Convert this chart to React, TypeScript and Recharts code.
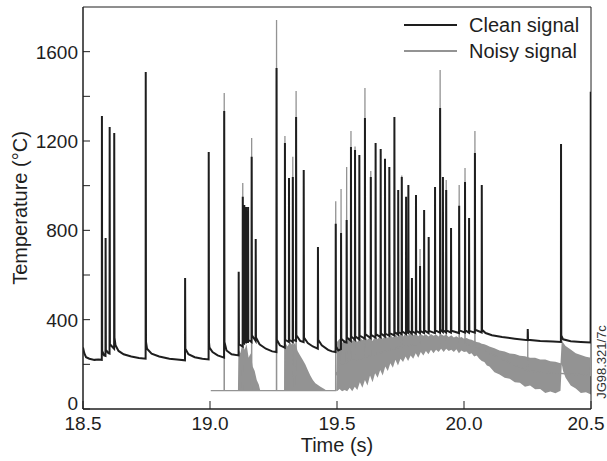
import React from 'react';
import { ComposedChart, Line, Area, XAxis, YAxis, ReferenceArea, Label } from 'recharts';

// [time (s), temperature (°C)]
const cleanSignal: [number, number][] = [
  [18.5, 275], [18.505, 250], [18.512, 232], [18.525, 225], [18.545, 220], [18.56, 222], [18.574, 220],
  [18.5745, 1312], [18.5755, 260], [18.583, 240], [18.5885, 238], [18.589, 766], [18.59, 265],
  [18.6, 250], [18.6045, 248], [18.605, 1263], [18.606, 290], [18.6225, 270], [18.623, 1236],
  [18.624, 320], [18.628, 285], [18.64, 260], [18.66, 245], [18.69, 235], [18.72, 228], [18.7465, 225],
  [18.747, 1509], [18.748, 300], [18.752, 270], [18.77, 248], [18.8, 235], [18.84, 225], [18.87, 222],
  [18.9015, 218], [18.902, 587], [18.903, 270], [18.915, 245], [18.94, 232], [18.97, 225], [18.9945, 222],
  [18.995, 1151], [18.996, 300], [18.998, 275], [19.01, 255], [19.03, 240], [19.0555, 230],
  [19.056, 1334], [19.057, 300], [19.065, 262], [19.085, 245], [19.1125, 240], [19.113, 614],
  [19.114, 290], [19.1285, 280], [19.129, 950], [19.13, 300], [19.1345, 295], [19.135, 913],
  [19.136, 300], [19.1415, 298], [19.142, 905], [19.143, 300], [19.1495, 300], [19.15, 905],
  [19.151, 310], [19.1635, 300], [19.164, 1129], [19.165, 330], [19.1795, 305], [19.18, 761],
  [19.181, 320], [19.195, 290], [19.22, 270], [19.245, 258], [19.2615, 255], [19.262, 1527],
  [19.263, 310], [19.275, 285], [19.2945, 275], [19.295, 1191], [19.296, 310], [19.3105, 300],
  [19.311, 1034], [19.312, 310], [19.3255, 300], [19.326, 1039], [19.327, 310], [19.3385, 305],
  [19.339, 1308], [19.34, 330], [19.355, 305], [19.3685, 300], [19.369, 1070], [19.37, 320],
  [19.385, 295], [19.405, 280], [19.4245, 270], [19.425, 725], [19.426, 310], [19.44, 285],
  [19.465, 265], [19.48, 258], [19.4945, 255], [19.495, 830], [19.496, 280], [19.505, 262],
  [19.5155, 268], [19.516, 788], [19.517, 315], [19.53, 300], [19.5375, 298], [19.538, 846],
  [19.539, 320], [19.5545, 305], [19.555, 1173], [19.556, 325], [19.5705, 310], [19.571, 1160],
  [19.572, 325], [19.5875, 312], [19.588, 1137], [19.589, 328], [19.6095, 315], [19.61, 1303],
  [19.611, 335], [19.6325, 318], [19.633, 1039], [19.634, 332], [19.6515, 320], [19.652, 1191],
  [19.653, 335], [19.6715, 322], [19.672, 1164], [19.673, 338], [19.6885, 325], [19.689, 1120],
  [19.69, 338], [19.7055, 328], [19.706, 1084], [19.707, 340], [19.7255, 330], [19.726, 1308],
  [19.727, 345], [19.7405, 333], [19.741, 981], [19.742, 345], [19.7545, 335], [19.755, 1039],
  [19.756, 348], [19.7715, 336], [19.772, 950], [19.773, 345], [19.7805, 340], [19.781, 1003],
  [19.782, 350], [19.7945, 338], [19.795, 587], [19.796, 348], [19.8105, 338], [19.811, 958],
  [19.812, 350], [19.8265, 340], [19.827, 640], [19.828, 350], [19.8425, 340], [19.843, 891],
  [19.844, 352], [19.8605, 340], [19.861, 770], [19.862, 350], [19.8855, 340], [19.886, 994],
  [19.887, 352], [19.9055, 342], [19.906, 1348], [19.907, 355], [19.9165, 345], [19.917, 1039],
  [19.918, 352], [19.9295, 343], [19.93, 981], [19.931, 352], [19.9485, 342], [19.949, 810],
  [19.95, 350], [19.9805, 340], [19.981, 910], [19.982, 352], [20.0035, 342], [20.004, 1016],
  [20.005, 352], [20.0195, 342], [20.02, 855], [20.021, 350], [20.0425, 342], [20.043, 1146],
  [20.044, 355], [20.0695, 343], [20.07, 1003], [20.071, 355], [20.085, 340], [20.11, 330],
  [20.15, 322], [20.2, 315], [20.2505, 308], [20.251, 358], [20.252, 310], [20.3, 305], [20.35, 302],
  [20.3815, 300], [20.382, 1187], [20.383, 330], [20.39, 312], [20.42, 303], [20.46, 300],
  [20.4985, 298], [20.499, 1420],
];

const noisySignal: [number, number][] = [
  [19.003, 82], [19.0555, 82], [19.056, 1415], [19.0565, 82], [19.1285, 82], [19.129, 1012],
  [19.1295, 82], [19.1635, 82], [19.164, 1213], [19.1645, 82], [19.2615, 82], [19.262, 1742],
  [19.2625, 82], [19.2945, 82], [19.295, 1222], [19.2955, 82], [19.3255, 82], [19.326, 1129],
  [19.3265, 82], [19.3385, 82], [19.339, 1424], [19.3395, 82], [19.4945, 82], [19.495, 930],
  [19.4955, 150], [19.5155, 200], [19.516, 985], [19.5165, 200], [19.5375, 210], [19.538, 1084],
  [19.5385, 210], [19.5545, 220], [19.555, 1245], [19.5555, 220], [19.5705, 220], [19.571, 1175],
  [19.5715, 220], [19.6095, 230], [19.61, 1437], [19.6105, 230], [19.6325, 240], [19.633, 1066],
  [19.6335, 240], [19.7545, 280], [19.755, 1045], [19.7555, 280], [19.8265, 290], [19.827, 716],
  [19.8275, 290], [19.9055, 290], [19.906, 1518], [19.9065, 290], [19.9295, 290], [19.93, 1025],
  [19.9305, 290], [19.9805, 290], [19.981, 1003], [19.9815, 290], [20.0035, 290], [20.004, 1079],
  [20.0045, 290], [20.0425, 280], [20.043, 1245], [20.0435, 280], [20.2505, 170], [20.251, 345],
  [20.2515, 170], [20.4985, 150], [20.499, 1549],
];

// envelope of the dense noise on the noisy trace: [time, low, high]
const noisyBand: [number, number, number][] = [
  [19.11, 82, 82], [19.112, 82, 270], [19.12, 82, 250], [19.128, 82, 300], [19.136, 82, 265],
  [19.144, 82, 290], [19.152, 82, 230], [19.16, 82, 250], [19.168, 82, 190], [19.176, 82, 170],
  [19.184, 82, 130], [19.192, 82, 110], [19.198, 82, 82],
  [19.292, 82, 82], [19.295, 82, 300], [19.305, 82, 280], [19.315, 82, 300], [19.325, 82, 285],
  [19.335, 82, 295], [19.345, 82, 260], [19.355, 82, 240], [19.365, 82, 220], [19.375, 82, 200],
  [19.385, 82, 175], [19.395, 82, 150], [19.405, 82, 130], [19.415, 82, 115], [19.435, 82, 100],
  [19.45, 82, 90], [19.46, 82, 82],
  [19.497, 82, 82], [19.5, 80, 300], [19.51, 90, 315], [19.52, 80, 295], [19.53, 85, 310],
  [19.54, 80, 300], [19.55, 95, 320], [19.56, 80, 305], [19.57, 100, 318], [19.58, 85, 300],
  [19.59, 120, 322], [19.6, 95, 308], [19.61, 130, 325], [19.62, 105, 310], [19.63, 150, 322],
  [19.64, 120, 305], [19.65, 160, 325], [19.66, 140, 312], [19.67, 175, 328], [19.68, 150, 315],
  [19.69, 190, 330], [19.7, 170, 318], [19.71, 205, 332], [19.72, 185, 320], [19.73, 220, 335],
  [19.74, 195, 322], [19.75, 225, 338], [19.76, 210, 325], [19.77, 235, 340], [19.78, 215, 328],
  [19.79, 240, 342], [19.8, 225, 330], [19.81, 250, 338], [19.82, 230, 326], [19.83, 255, 336],
  [19.84, 240, 328], [19.85, 260, 335], [19.86, 245, 325], [19.87, 265, 336], [19.88, 250, 328],
  [19.89, 265, 334], [19.9, 255, 325], [19.91, 270, 335], [19.92, 255, 328], [19.93, 270, 332],
  [19.94, 260, 322], [19.95, 265, 330], [19.96, 255, 320], [19.97, 268, 326], [19.98, 250, 318],
  [19.99, 262, 322], [20.0, 255, 315], [20.01, 258, 318], [20.02, 245, 312], [20.03, 250, 310],
  [20.04, 235, 305], [20.05, 240, 300], [20.06, 225, 298], [20.07, 215, 292], [20.08, 210, 290],
  [20.09, 195, 285], [20.1, 190, 280], [20.12, 165, 272], [20.14, 155, 262], [20.16, 140, 258],
  [20.18, 135, 248], [20.2, 120, 246], [20.22, 118, 238], [20.24, 100, 236], [20.26, 105, 230],
  [20.28, 88, 229], [20.3, 90, 222], [20.32, 72, 222], [20.34, 78, 214], [20.36, 70, 212],
  [20.38, 82, 205], [20.385, 200, 310], [20.39, 170, 298], [20.4, 140, 282], [20.42, 105, 266],
  [20.44, 92, 250], [20.46, 72, 242], [20.48, 75, 234], [20.5, 65, 230],
];

const xTicks = [18.5, 19.0, 19.5, 20.0, 20.5];
const yTicks = [0, 200, 400, 600, 800, 1000, 1200, 1400, 1600];
const yLabelStep = 400;

const FONT = '"Liberation Sans", Arial, Helvetica, sans-serif';
const INK = '#1e1e1e';
const GREY = '#939393';

const cleanData = cleanSignal.map(([t, v]) => ({ t, v }));
const noisyData = noisySignal.map(([t, v]) => ({ t, v }));
const bandData = noisyBand.map(([t, lo, hi]) => ({ t, range: [lo, hi] }));

function YTick({ x, y, payload }: any) {
  const v = payload.value;
  return (
    <g>
      <line x1={x} x2={x + 7} y1={y} y2={y} stroke={INK} strokeWidth={1} />
      {v % yLabelStep === 0 && (
        <text x={x - 5} y={y} dy={v === 0 ? 1 : 7} textAnchor="end" fontSize={19} fontFamily={FONT} fill={INK}>
          {v}
        </text>
      )}
    </g>
  );
}

function XTick({ x, y, payload }: any) {
  const last = payload.value === xTicks[xTicks.length - 1];
  return (
    <g>
      <line x1={x} x2={x} y1={y} y2={y - 8} stroke={INK} strokeWidth={1} />
      <text x={last ? x - 5 : x} y={y} dy={21} textAnchor="middle" fontSize={19} fontFamily={FONT} fill={INK}>
        {payload.value.toFixed(1)}
      </text>
    </g>
  );
}

export default function App() {
  return (
    <div style={{ position: 'absolute', left: 0, top: 0, width: 607, height: 461, background: '#fff' }}>
      <ComposedChart width={607} height={461} margin={{ top: 7, right: 16, bottom: 0, left: 0 }}>
        <XAxis
          type="number"
          dataKey="t"
          domain={[18.5, 20.5]}
          ticks={xTicks}
          interval={0}
          allowDataOverflow
          height={52}
          stroke={INK}
          tickLine={false}
          tickSize={0}
          tickMargin={0}
          tick={<XTick />}
        >
          <Label value="Time (s)" position="center" dy={10} fontSize={20} fontFamily={FONT} fill={INK} />
        </XAxis>
        <YAxis
          type="number"
          domain={[0, 1800]}
          ticks={yTicks}
          interval={0}
          allowDataOverflow
          width={83}
          stroke={INK}
          tickLine={false}
          tickSize={0}
          tickMargin={0}
          tick={<YTick />}
        >
          <Label value="Temperature (°C)" angle={-90} position="center" dx={-22} fontSize={20} fontFamily={FONT} fill={INK} />
        </YAxis>
        <Area
          data={bandData}
          dataKey="range"
          type="linear"
          stroke="none"
          fill={GREY}
          fillOpacity={1}
          isAnimationActive={false}
        />
        <Line
          data={noisyData}
          dataKey="v"
          type="linear"
          stroke={GREY}
          strokeWidth={1.3}
          dot={false}
          isAnimationActive={false}
        />
        <Line
          data={cleanData}
          dataKey="v"
          type="linear"
          stroke={INK}
          strokeWidth={2}
          dot={false}
          isAnimationActive={false}
        />
        <ReferenceArea x1={18.5} x2={20.5} y1={0} y2={1800} fill="none" stroke={INK} strokeWidth={1} />
      </ComposedChart>
      <div style={{ position: 'absolute', left: 404, top: 12, fontFamily: FONT, fontSize: 20, color: INK, lineHeight: '26px' }}>
        <div style={{ display: 'flex', alignItems: 'center' }}>
          <span style={{ display: 'inline-block', width: 53, height: 2, background: INK, marginRight: 12 }} />
          Clean signal
        </div>
        <div style={{ display: 'flex', alignItems: 'center' }}>
          <span style={{ display: 'inline-block', width: 53, height: 2, background: GREY, marginRight: 12 }} />
          Noisy signal
        </div>
      </div>
      <div
        style={{
          position: 'absolute',
          left: 601,
          top: 362,
          transform: 'translate(-50%, -50%) rotate(-90deg)',
          fontFamily: FONT,
          fontSize: 13,
          color: '#333',
          whiteSpace: 'nowrap',
        }}
      >
        JG98.321/7c
      </div>
    </div>
  );
}
